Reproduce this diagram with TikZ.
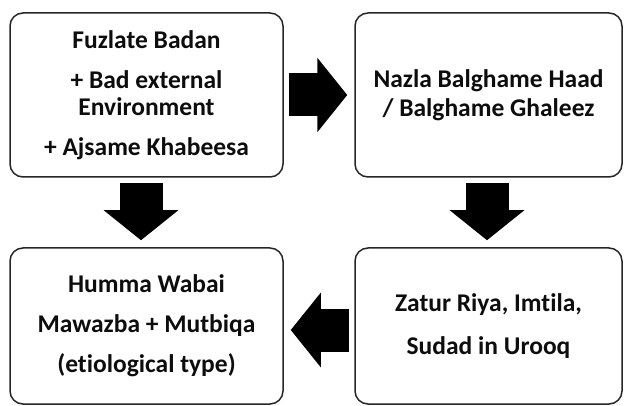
\documentclass[tikz,border=0pt]{standalone}
\usepackage{fontspec}
\setmainfont{Carlito}[Ligatures=NoCommon]
\usetikzlibrary{arrows.meta}
\begin{document}
\begin{tikzpicture}[x=1pt,y=-1pt,
    box/.style={draw=black!85, line width=1.5pt, rounded corners=13pt, align=center,
      inner sep=0pt, font=\fontsize{25.5}{27}\selectfont\bfseries, text=black!95},
    bigarrow/.style={line width=43pt, -{Triangle[length=30pt,width=73pt]},
      shorten <=5pt, shorten >=7pt}]
      \useasboundingbox (0,0) rectangle (624,406);
      \node[box, minimum width=273pt, minimum height=164pt] at (146.5,95) (badan)
        {Fuzlate Badan\\[13pt]+ Bad external\\Environment\\[13pt]+ Ajsame Khabeesa};
      \node[box, minimum width=267pt, minimum height=164pt] at (488.5,95) (nazla)
        {Nazla Balghame Haad\\[2pt]/ Balghame Ghaleez};
      \node[box, minimum width=267pt, minimum height=156pt] at (488.5,326) (zatur)
        {Zatur Riya, Imtila,\\[16pt]Sudad in Urooq};
      \node[box, minimum width=273pt, minimum height=156pt] at (146.5,326) (humma)
        {Humma Wabai\\[13pt]Mawazba + Mutbiqa\\[13pt](etiological type)};
      \draw[bigarrow] (badan) -- (nazla);
      \draw[bigarrow] ([xshift=-5.5pt]badan.south) -- ([xshift=-5.5pt]humma.north);
      \draw[bigarrow] ([xshift=-1.5pt]nazla.south) -- ([xshift=-1.5pt]zatur.north);
      \draw[bigarrow] ([yshift=-4pt]zatur.west) -- ([yshift=-4pt]humma.east);
    \end{tikzpicture}
\end{document}
